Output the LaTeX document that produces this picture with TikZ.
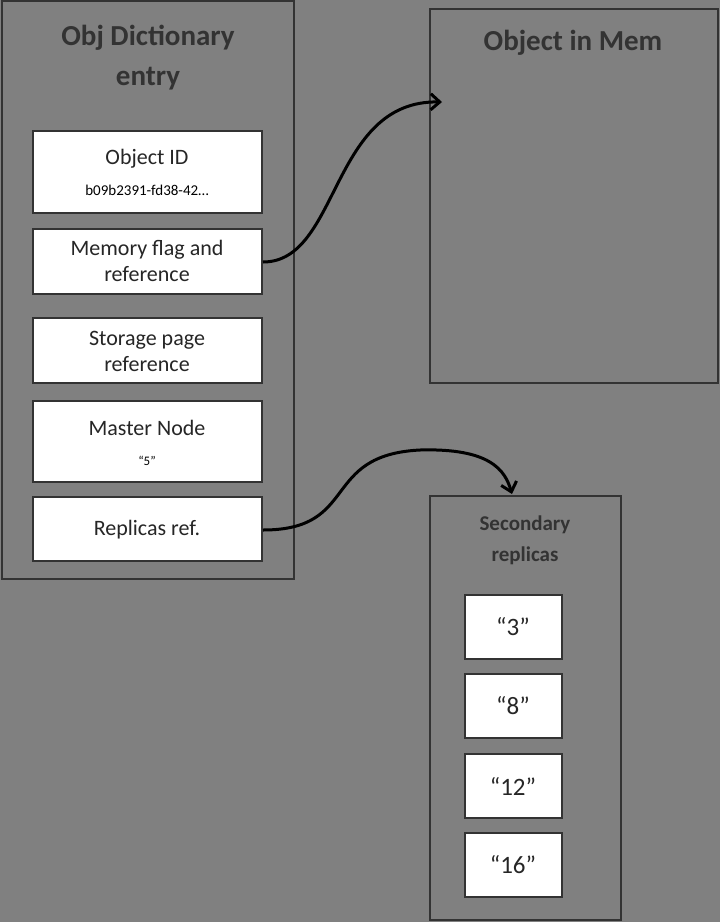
\documentclass[tikz,border=0pt]{standalone}
\usepackage{fontspec}
\setmainfont{Carlito}
\usetikzlibrary{arrows.meta}
\definecolor{bg}{HTML}{808080}
\definecolor{edge}{HTML}{333333}
\begin{document}
\begin{tikzpicture}[x=1pt,y=-1pt,
 panel/.style={draw=edge,line width=1.5pt},
 wbox/.style={draw=edge,fill=white,line width=1.5pt},
 lab/.style={font=\fontsize{22}{26}\selectfont,align=center,text=black!85},
 ttl/.style={font=\bfseries\fontsize{29}{40}\selectfont,align=center,text=black!80},
 arr/.style={line width=3pt,-{Straight Barb[length=9pt,width=16pt]}}]
\fill[bg] (0,0) rectangle (720,922);
\useasboundingbox (0,0) rectangle (720,922);
\draw[panel] (2,1) rectangle (294,579);
\draw[panel] (430,9) rectangle (718,383);
\draw[panel] (430,496) rectangle (621,920);
\node[ttl] (t1) at (148,58) {Obj Dictionary\\entry};
\node[ttl] (t2) at (573,43) {Object in Mem};
\node[font=\bfseries\fontsize{21}{31}\selectfont,align=center,text=black!80] (t3) at (525,540) {Secondary\\replicas};
\draw[wbox] (33,131) rectangle (262,213);
\node[lab] (oid) at (147,159) {Object ID};
\node[font=\fontsize{15}{18}\selectfont] (oidv) at (147,190) {b09b2391-fd38-42\dots};
\draw[wbox] (33,229) rectangle (262,294) coordinate (memc);
\node[lab] (mem) at (147,261) {Memory flag and\\reference};
\draw[wbox] (33,318) rectangle (262,383);
\node[lab] (sto) at (147,351) {Storage page\\reference};
\draw[wbox] (33,401) rectangle (262,482);
\node[lab] (mas) at (147,428) {Master Node};
\node[font=\fontsize{13}{16}\selectfont] (masv) at (147,461) {“5”};
\draw[wbox] (33,497) rectangle (262,561);
\node[lab] (rep) at (147,530) {Replicas ref.};
\foreach \y/\t in {595/3,674/8,754/12,833/16}{
 \draw[wbox] (465,\y) rectangle (562,\y+64);
 \node[lab,font=\fontsize{25}{30}\selectfont] (r\t) at (513,\y+32) {“\t”};
}
\coordinate (a1) at (263,262);
\coordinate (a1e) at (442,102);
\draw[arr] (a1) .. controls (340,262) and (330,100) .. (a1e);
\coordinate (a2) at (263,530);
\coordinate (a2e) at (512,494);
\draw[arr] (a2) .. controls (360,530) and (320,455) .. (420,450) .. controls (490,448) and (505,470) .. (a2e);
\end{tikzpicture}
\end{document}
